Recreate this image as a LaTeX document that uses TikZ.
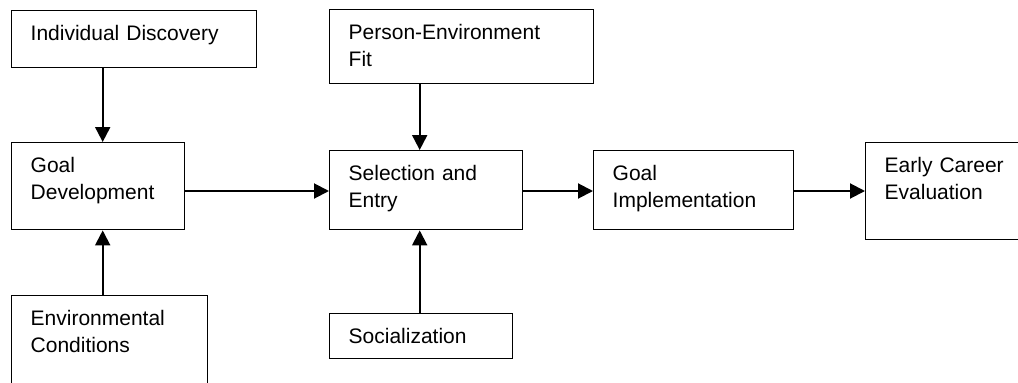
\documentclass[tikz,border=0pt]{standalone}
\usepackage{fontspec}
\setmainfont{Liberation Sans}
\usepackage{tikz}
\usetikzlibrary{arrows.meta, positioning, calc}

\begin{document}
\begin{tikzpicture}[x=1pt, y=-1pt,
  stagebox/.style={draw, line width=1.4pt, anchor=north west, align=left,
    inner xsep=19pt, inner ysep=0pt, text height=30pt,
    font=\fontsize{21}{27}\selectfont},
  flow/.style={line width=2pt, -{Triangle[length=15pt, width=15pt]}}]
\useasboundingbox (0,0) rectangle (1018,383);
\clip (0,0) rectangle (1018,383);

% Boxes
\node[stagebox, text width=207pt, text depth=27pt] (disc) at (11,10) {Individual Discovery};
\node[stagebox, text width=135pt, text depth=57pt] (goaldev) at (11,142) {Goal\\Development};
\node[stagebox, text width=158pt, text depth=85pt] (envcond) at (11,295) {Environmental\\Conditions};
\node[stagebox, text width=226pt, text depth=44pt] (pefit) at (329,9) {Person-Environment\\Fit};
\node[stagebox, text width=155pt, text depth=49pt] (selentry) at (329,150) {Selection and\\Entry};
\node[stagebox, text width=145pt, text depth=15pt] (social) at (329,313) {Socialization};
\node[stagebox, text width=162pt, text depth=49pt] (goalimpl) at (593,150) {Goal\\Implementation};
\node[stagebox, text width=132pt, text depth=67pt] (evaluation) at (865,142) {Early Career\\Evaluation};

% Arrows
\coordinate (row) at (0,191);
\coordinate (gdin) at ([xshift=4.5pt]goaldev.north);
\coordinate (sein) at ([xshift=-6.5pt]selentry.north);
\draw[flow] (gdin |- disc.south) -- (gdin);
\draw[flow] (gdin |- envcond.north) -- (gdin |- goaldev.south);
\draw[flow] (sein |- pefit.south) -- (sein);
\draw[flow] (sein |- social.north) -- (sein |- selentry.south);
\draw[flow] (goaldev.east |- row) -- (selentry.west |- row);
\draw[flow] (selentry.east |- row) -- (goalimpl.west |- row);
\draw[flow] (goalimpl.east |- row) -- (evaluation.west |- row);
\end{tikzpicture}
\end{document}
